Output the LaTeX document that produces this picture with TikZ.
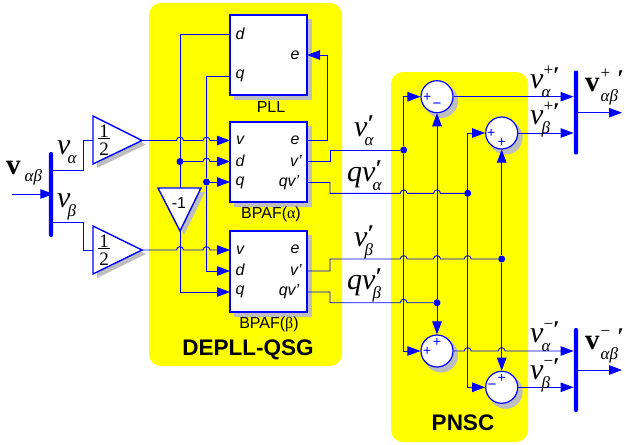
\documentclass[tikz,border=0pt]{standalone}
\usepackage{fontspec}
\usetikzlibrary{arrows.meta,calc}
\setmainfont{Liberation Sans}
\newfontfamily\tms{Liberation Serif}
\definecolor{wireblue}{RGB}{0,0,255}
\definecolor{padyellow}{RGB}{255,255,0}
\definecolor{castgrey}{RGB}{190,190,190}
\newcommand\fs[1]{\fontsize{#1}{#1}\selectfont}
% bump of a horizontal wire over a vertical one
\newcommand\hop[2]{-- ({#1-3.5},#2) .. controls ({#1-3},{#2-4.5}) and ({#1+3},{#2-4.5}) .. ({#1+3.5},#2)}
% main letter, then sub and superscript laid over one another
\newcommand\scr[4]{\kern#1pt\rlap{\raisebox{-#3pt}{\fs{17}\tms\mdseries\itshape #2}}\raisebox{13pt}{\fs{17}\tms\upshape\mdseries #4}}
\newcommand\prm{\raisebox{-8pt}{\fs{24}\tms\bfseries\upshape ′}}
\newcommand\vit{\fs{30}\tms\itshape v}
\newcommand\vbf{\fs{29}\tms\bfseries v}
\tikzset{
  x=1pt,y=-1pt,
  padfill/.style={fill=padyellow,draw=none,rounded corners=12pt},
  wire/.style={draw=wireblue,line width=.9pt},
  arr/.style={wire,-{Triangle[length=13pt,width=9.5pt]}},
  blockbox/.style={draw=wireblue,line width=1.4pt,fill=white,minimum width=77pt,inner sep=0},
  sumc/.style={circle,draw=wireblue,line width=1.2pt,fill=white,minimum size=32pt,inner sep=0},
  tri/.style={draw=wireblue,line width=1.4pt,fill=white,line join=miter},
  castshadow/.style={fill=castgrey,draw=none},
  busbar/.style={fill=wireblue,draw=none,rounded corners=2pt,minimum width=4.4pt,inner sep=0},
  jdot/.style={circle,fill=wireblue,minimum size=7pt,inner sep=0},
  porttext/.style={font=\fs{16}\itshape,inner sep=0,text=black},
  captext/.style={font=\fs{16},inner sep=0,text=black},
  titletext/.style={font=\fs{22.5}\bfseries,inner sep=0,text=black},
  sgn/.style={font=\fs{14},text=wireblue,inner sep=0},
  lab/.style={inner sep=0,anchor=base west,text=black},
}
\begin{document}
\begin{tikzpicture}
\useasboundingbox (0,0) rectangle (625,445);
% pads
\fill[padfill] (149,3) rectangle (342,366);
\fill[padfill] (391,72) rectangle (528,442);
% shadows
\fill[castshadow] (234,19) rectangle (312,100);
\fill[castshadow] (234,126) rectangle (312,207);
\fill[castshadow] (234,235) rectangle (312,317);
\fill[castshadow] (441,101) circle[radius=17];
\fill[castshadow] (505.7,137.5) circle[radius=17];
\fill[castshadow] (441,355.5) circle[radius=17];
\fill[castshadow] (505.7,391.8) circle[radius=17];
% blocks
\node[blockbox,minimum height=80pt] (pll) at (268.5,55) {};
\node[blockbox,minimum height=80pt] (bpa) at (268.5,162) {};
\node[blockbox,minimum height=81pt] (bpb) at (268.5,271.5) {};
\node[sumc] (s1) at (437,96.7) {};
\node[sumc] (s2) at (501.7,133) {};
\node[sumc] (s3) at (437,351) {};
\node[sumc] (s4) at (501.7,387.3) {};
% buses
\node[busbar,minimum height=85pt] (busl) at (51,194.5) {};
\node[busbar,minimum height=84pt] (busp) at (576,112.5) {};
\node[busbar,minimum height=84pt] (busn) at (576,370) {};
% gains
\fill[castshadow] (97,120) -- (97,168) -- (146,144.5) -- cycle;
\draw[tri] (93,116) -- (93,164) -- (142,140.5) -- cycle;
\fill[castshadow] (97,230) -- (97,278) -- (146,254) -- cycle;
\draw[tri] (93,226) -- (93,274) -- (142,250) -- cycle;
\fill[castshadow] (162,192) -- (205,192) -- (184,235) -- cycle;
\draw[tri] (158,188) -- (201,188) -- (180,231) -- cycle;
\coordinate (g1in) at (93,140.5);
\coordinate (g1out) at (142,140.5);
\coordinate (g2in) at (93,250);
\coordinate (g2out) at (142,250);
\coordinate (g3in) at (180,188);
\coordinate (g3out) at (180,231);
% ports
\coordinate (pll-d) at (230,34);
\coordinate (pll-q) at (230,76);
\coordinate (pll-e) at (307,55);
\coordinate (a-v) at (230,140.5);
\coordinate (a-d) at (230,161.5);
\coordinate (a-q) at (230,182);
\coordinate (a-e) at (307,140.5);
\coordinate (a-vp) at (307,161.5);
\coordinate (a-qv) at (307,182.5);
\coordinate (b-v) at (230,250);
\coordinate (b-d) at (230,271);
\coordinate (b-q) at (230,292);
\coordinate (b-vp) at (307,271);
\coordinate (b-qv) at (307,292);
% junctions
\node[jdot] (j1) at (180,161.5) {};
\node[jdot] (j2) at (206.5,182) {};
\node[jdot] (ja) at (403.7,150) {};
\node[jdot] (jb) at (467.7,193.3) {};
\node[jdot] (jc) at (501.7,259) {};
\node[jdot] (jd) at (437,302.7) {};
\coordinate (in) at (12,194);
\coordinate (outp) at (622,112.7);
\coordinate (outn) at (622,370);
% wires, left
\draw[arr] (in) -- (in -| busl.east);
\draw[wire] (51,170) -- (83,170) -- (83,140.5) -- (g1in);
\draw[wire] (51,222) -- (83,222) -- (83,250) -- (g2in);
\draw[arr] (g1out) \hop{180}{140.5} \hop{206.5}{140.5} -- (a-v);
\draw[arr] (j1) \hop{206.5}{161.5} -- (a-d);
\draw[arr] (j2) -- (a-q);
\draw[arr] (g2out) \hop{180}{250} \hop{206.5}{250} -- (b-v);
\draw[wire] (pll-d) -| (g3in);
\draw[wire] (pll-q) -| (j2);
\draw[arr] (j2) |- (b-d);
\draw[arr] (g3out) |- (b-q);
% wires, block outputs
\draw[arr] (a-e) -- (327,140.5) -- (327,55) -- (pll-e);
\draw[wire] (a-vp) -- (330,161.5) -- (330,150) -- (ja);
\draw[wire] (a-qv) -- (330,182.5) -- (330,193.3) \hop{403.7}{193.3} \hop{437}{193.3} -- (jb);
\draw[wire] (b-vp) -- (330,271) -- (330,259) \hop{403.7}{259} \hop{437}{259} \hop{467.7}{259} -- (jc);
\draw[wire] (b-qv) -- (330,292) -- (330,302.7) \hop{403.7}{302.7} -- (jd);
% wires, PNSC
\draw[arr] (ja) |- (s1.west);
\draw[arr] (ja) |- (s3.west);
\draw[arr] (jb) |- (s2.west);
\draw[arr] (jb) |- (s4.west);
\draw[arr] (jd) -- (s1.south);
\draw[arr] (jd) -- (s3.north);
\draw[arr] (jc) -- (s2.south);
\draw[arr] (jc) -- (s4.north);
\draw[arr] (s1.east) -- (s1.east -| busp.west);
\draw[arr] (s2.east) -- (s2.east -| busp.west);
\draw[arr] (s3.east) \hop{467.7}{351} \hop{501.7}{351} -- (s3.east -| busn.west);
\draw[arr] (s4.east) -- (s4.east -| busn.west);
\draw[arr] (outp -| busp.east) -- (outp);
\draw[arr] (outn -| busn.east) -- (outn);
% block texts
\node[porttext] (t1) at (240,34) {d};
\node[porttext] (t2) at (240,76) {q};
\node[porttext] (t3) at (295,55) {e};
\node[captext] (t4) at (271,107) {PLL};
\node[porttext] (t5) at (240,140.5) {v};
\node[porttext] (t6) at (240,161) {d};
\node[porttext] (t7) at (240,182.5) {q};
\node[porttext] (t8) at (295,140) {e};
\node[porttext] (t9) at (296,161) {v'};
\node[porttext] (t10) at (289,182.5) {qv'};
\node[captext] (t11) at (271,214) {BPAF({\tms α})};
\node[porttext] (t12) at (240,250) {v};
\node[porttext] (t13) at (240,270) {d};
\node[porttext] (t14) at (240,292) {q};
\node[porttext] (t15) at (295,249) {e};
\node[porttext] (t16) at (296,270) {v'};
\node[porttext] (t17) at (289,292) {qv'};
\node[captext] (t18) at (269,324) {BPAF({\tms β})};
\node[titletext] (t19) at (248,350) {DEPLL-QSG};
\node[titletext] (t20) at (463,423) {PNSC};
\node[captext] (t21) at (179,203) {-1};
% gains text
\node[inner sep=0,text=black,font=\fs{19}\tms] (f1) at (104,131) {1};
\node[inner sep=0,text=black,font=\fs{19}\tms] (f2) at (104,149) {2};
\draw[black,line width=.7pt] (98,138.5) -- (110,138.5);
\node[inner sep=0,text=black,font=\fs{19}\tms] (f3) at (104,241) {1};
\node[inner sep=0,text=black,font=\fs{19}\tms] (f4) at (104,259) {2};
\draw[black,line width=.7pt] (98,248) -- (110,248);
% signs
\node[sgn] (p1) at (427.3,97) {+};
\node[sgn,font=\fs{15}] (p2) at (437,105.5) {−};
\node[sgn] (p3) at (491.3,133) {+};
\node[sgn] (p4) at (501.7,142.3) {+};
\node[sgn] (p5) at (437,342) {+};
\node[sgn] (p6) at (427.3,351) {+};
\node[sgn] (p7) at (501.7,378) {+};
\node[sgn,font=\fs{15}] (p8) at (492,387) {−};
% signal labels
\node[lab] (l1) at (6,174) {\vbf\scr{4}{αβ}{7}{}};
\node[lab] (l2) at (57,154) {\vit\scr{-3}{α}{9}{}};
\node[lab] (l3) at (57,207) {\vit\scr{-3}{β}{9}{}};
\node[lab] (l4) at (354,136) {\vit\scr{-3}{α}{9}{\kern3pt\prm}};
\node[lab] (l5) at (347,181) {\fs{30}\tms\itshape qv\scr{-3}{α}{9}{\kern3pt\prm}};
\node[lab] (l6) at (354,246) {\vit\scr{-3}{β}{9}{\kern3pt\prm}};
\node[lab] (l7) at (347,289) {\fs{30}\tms\itshape qv\scr{-3}{β}{9}{\kern3pt\prm}};
\node[lab] (l8) at (530,88) {\vit\scr{-2}{α}{9}{\kern2pt+\prm}};
\node[lab] (l9) at (530,124) {\vit\scr{-2}{β}{9}{\kern2pt+\prm}};
\node[lab] (l10) at (530,342) {\vit\scr{-2}{α}{9}{\kern2pt−\prm}};
\node[lab] (l11) at (530,379) {\vit\scr{-2}{β}{9}{\kern2pt−\prm}};
\node[lab] (l12) at (585,91) {\vbf\scr{1}{αβ}{10}{+\kern7pt\prm}};
\node[lab] (l13) at (585,349) {\vbf\scr{1}{αβ}{10}{−\kern7pt\prm}};
\end{tikzpicture}
\end{document}
